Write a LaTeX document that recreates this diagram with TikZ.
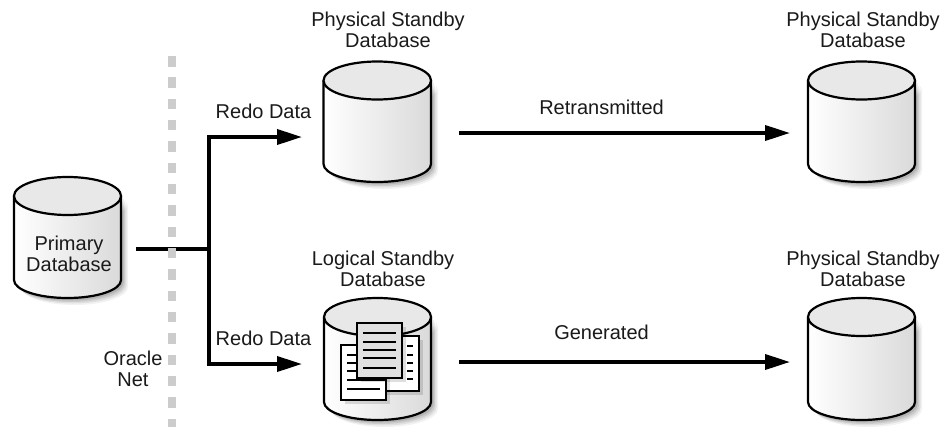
\documentclass[tikz,border=0pt]{standalone}
\usepackage{fontspec}
\setmainfont{Liberation Sans}
\usetikzlibrary{arrows.meta}
\definecolor{netgray}{HTML}{CCCCCC}
\definecolor{topgray}{HTML}{E8E8E8}
\definecolor{bodygray}{HTML}{DADADA}
\definecolor{sheetgray}{HTML}{E0E0E0}
\definecolor{textblack}{HTML}{1A1A1A}
\tikzset{
  label text/.style={font=\fontsize{20pt}{20.5pt}\selectfont, text=textblack, align=center, inner sep=0pt},
  link/.style={line width=3.6pt, line join=miter, draw=black},
  flow/.style={link, -{Triangle[length=25pt,width=15pt]}},
  outline/.style={draw=black, line width=2.2pt},
  ruled/.style={draw=black, line width=1.1pt},
  sheet/.style={draw=black, line width=2pt, fill=#1},
  sheet shadow/.style={fill=black, opacity=0.13},
}
% name, x-left, x-right, y of top ellipse centre, y where the sides end
\newcommand{\dbcyl}[5]{%
  \pgfmathsetmacro{\rx}{(#3-#2)/2}%
  \foreach \sh/\op in {7/0.05,5.5/0.07,4/0.09,2.5/0.11}{%
    \fill[black,opacity=\op,shift={(\sh pt,-\sh pt)}] (#2,#4) -- (#2,#5) arc[start angle=180,end angle=0,x radius=\rx,y radius=18] -- (#3,#4) arc[start angle=0,end angle=180,x radius=\rx,y radius=19] -- cycle;%
  }%
  \shade[left color=white,right color=bodygray] (#2,#4) -- (#2,#5) arc[start angle=180,end angle=0,x radius=\rx,y radius=18] -- (#3,#4) arc[start angle=0,end angle=180,x radius=\rx,y radius=19] -- cycle;%
  \draw[outline,line join=round] (#2,#4) -- (#2,#5) arc[start angle=180,end angle=0,x radius=\rx,y radius=18] -- (#3,#4);%
  \draw[outline,fill=topgray] (#2,#4) arc[start angle=180,end angle=-180,x radius=\rx,y radius=19] -- cycle;%
  \coordinate (#1) at ({(#2+#3)/2},{(#4+#5)/2});%
}
\begin{document}
\begin{tikzpicture}[x=1pt,y=-1pt]
\useasboundingbox (0,0) rectangle (950,426);
\fill[white] (0,0) rectangle (950,426);

% databases
\dbcyl{primary}{14}{121}{196}{280}
\dbcyl{physA}{323.5}{431}{80.5}{164}
\dbcyl{physB}{808}{915}{80.5}{164}
\dbcyl{logical}{324}{431}{317}{402}
\dbcyl{physC}{808}{915}{317}{402}

% documents in the logical standby database
\fill[sheet shadow] (378,340) rectangle (423,395);
\draw[sheet=white] (374,336) rectangle (419,391);
\foreach \yy in {346,355,363,371,379}{\draw[ruled] (407,\yy) -- (413,\yy);}
\fill[sheet shadow] (345,349) rectangle (390,404);
\draw[sheet=white] (341,345) rectangle (386,400);
\foreach \yy in {355,363,371}{\draw[ruled] (347,\yy) -- (356,\yy);}
\draw[ruled] (347,380) -- (386,380);
\draw[ruled] (347,389) -- (380,389);
\fill[sheet shadow] (361,327) rectangle (406,382);
\draw[sheet=sheetgray] (357,323) rectangle (402,378);
\foreach \yy in {333,342,350,358,368}{\draw[ruled] (363,\yy) -- (396,\yy);}

% labels
\node[label text] (lblA) at (388,30) {Physical Standby\\Database};
\node[label text] (lblB) at (863,30) {Physical Standby\\Database};
\node[label text] (lblL) at (383,269) {Logical Standby\\Database};
\node[label text] (lblC) at (863,269) {Physical Standby\\Database};
\node[label text] (lblP) at (69,254) {Primary\\Database};
\node[label text] (lblRedoA) at (263.5,111) {Redo Data};
\node[label text] (lblRedoB) at (263.5,338) {Redo Data};
\node[label text] (lblRetrans) at (601.5,107) {Retransmitted};
\node[label text] (lblGen) at (601.5,332) {Generated};
\node[label text] (lblNet) at (133,369) {Oracle\\Net};

% connectors
\coordinate (srcEnd) at (136,249);
\coordinate (tee) at (209,249);
\coordinate (upperCorner) at (209,137);
\coordinate (lowerCorner) at (209,364);
\coordinate (upperTip) at (302,137);
\coordinate (lowerTip) at (302,364);
\coordinate (retransStart) at (459,133);
\coordinate (retransTip) at (790,133);
\coordinate (genStart) at (459,362);
\coordinate (genTip) at (790,362);
\draw[link] (srcEnd) -- (tee);
\draw[flow] (tee) -- (upperCorner) -- (upperTip);
\draw[flow] (tee) -- (lowerCorner) -- (lowerTip);
\draw[flow] (retransStart) -- (retransTip);
\draw[flow] (genStart) -- (genTip);

% Oracle Net boundary
\foreach \k in {0,...,17}{
  \fill[netgray] (168,{56+21.33*\k}) rectangle (176,{66.5+21.33*\k});
}
\end{tikzpicture}
\end{document}
